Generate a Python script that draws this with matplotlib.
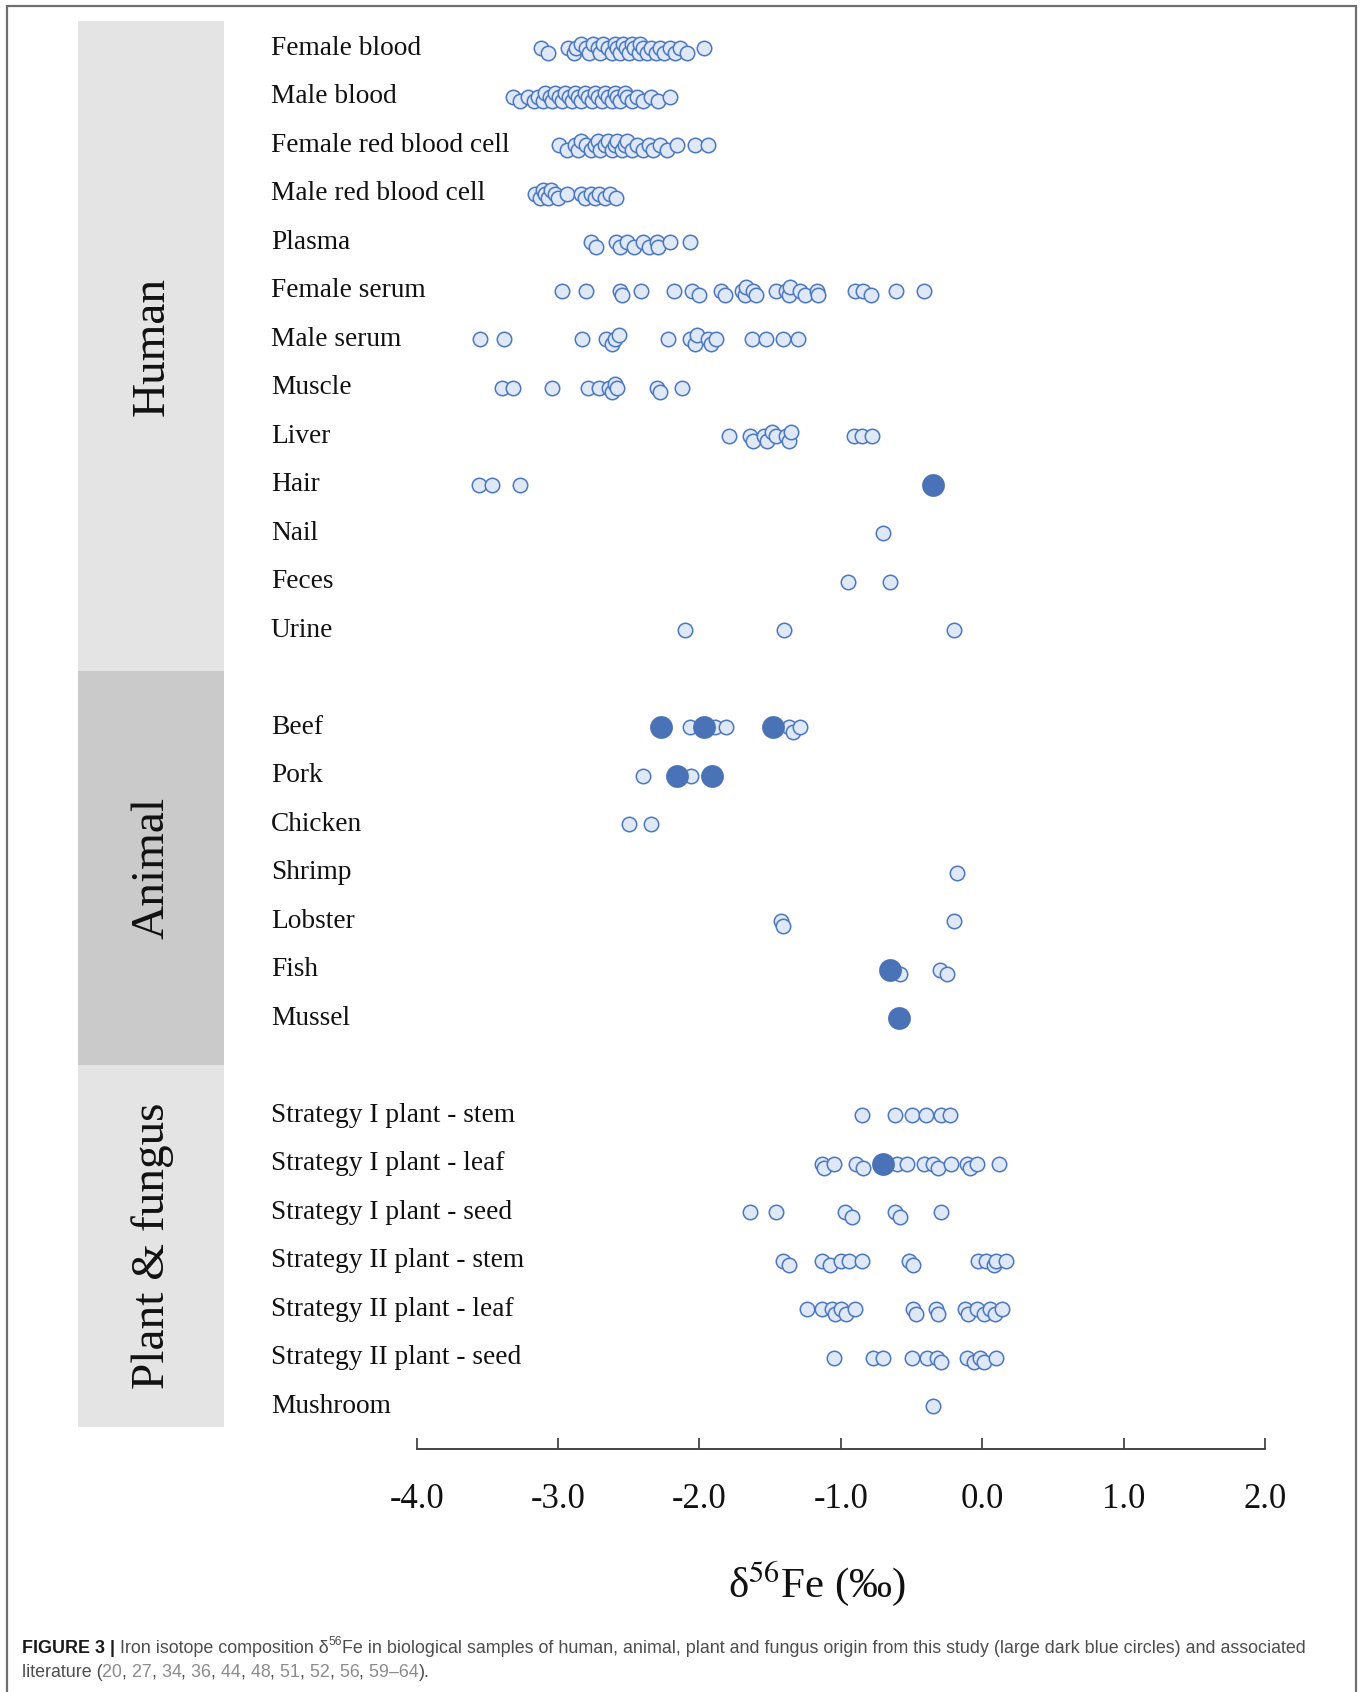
import numpy as np
import matplotlib.pyplot as plt
from matplotlib.patches import Rectangle
from matplotlib.transforms import blended_transform_factory

plt.rcParams['font.family'] = ['Liberation Serif', 'DejaVu Serif']
plt.rcParams['mathtext.fontset'] = 'stix'

# delta56Fe values (permil), literature = small circles, this study = large circles
human_labels = ["Female blood", "Male blood", "Female red blood cell", "Male red blood cell",
                "Plasma", "Female serum", "Male serum", "Muscle", "Liver", "Hair", "Nail",
                "Feces", "Urine"]
animal_labels = ["Beef", "Pork", "Chicken", "Shrimp", "Lobster", "Fish", "Mussel"]
plant_labels = ["Strategy I plant - stem", "Strategy I plant - leaf", "Strategy I plant - seed",
                "Strategy II plant - stem", "Strategy II plant - leaf", "Strategy II plant - seed",
                "Mushroom"]

female_blood = [-3.12, -3.07, -2.93, -2.89, -2.87, -2.84, -2.80, -2.78, -2.75, -2.72, -2.70, -2.68,
                -2.65, -2.62, -2.60, -2.58, -2.56, -2.54, -2.52, -2.50, -2.48, -2.46, -2.43, -2.42,
                -2.40, -2.37, -2.34, -2.31, -2.28, -2.25, -2.21, -2.17, -2.14, -2.09, -1.97]
male_blood = [-3.32, -3.27, -3.21, -3.17, -3.14, -3.11, -3.09, -3.06, -3.04, -3.02, -2.99, -2.97,
              -2.95, -2.92, -2.90, -2.88, -2.86, -2.84, -2.81, -2.79, -2.76, -2.74, -2.72, -2.69,
              -2.67, -2.65, -2.62, -2.60, -2.58, -2.56, -2.53, -2.51, -2.48, -2.44, -2.40, -2.34,
              -2.29, -2.21]
female_rbc = [-2.99, -2.94, -2.88, -2.86, -2.84, -2.80, -2.77, -2.74, -2.72, -2.70, -2.67, -2.65,
              -2.62, -2.60, -2.58, -2.55, -2.53, -2.51, -2.48, -2.44, -2.40, -2.36, -2.33, -2.28,
              -2.23, -2.16, -2.03, -1.94]
male_rbc = [-3.16, -3.13, -3.11, -3.09, -3.07, -3.05, -3.02, -3.00, -2.94, -2.84, -2.81, -2.77,
            -2.74, -2.71, -2.67, -2.63, -2.59]
plasma = [-2.77, -2.73, -2.59, -2.56, -2.51, -2.46, -2.40, -2.36, -2.30, -2.29, -2.21, -2.07]
female_serum = [-2.97, -2.80, -2.56, -2.55, -2.41, -2.18, -2.05, -2.00, -1.85, -1.82, -1.70, -1.68,
                -1.67, -1.62, -1.60, -1.46, -1.39, -1.37, -1.36, -1.29, -1.25, -1.17, -1.16, -0.90,
                -0.84, -0.79, -0.61, -0.41]
male_serum = [-3.55, -3.38, -2.83, -2.66, -2.62, -2.60, -2.57, -2.22, -2.07, -2.03, -2.02, -1.94,
              -1.92, -1.88, -1.63, -1.53, -1.41, -1.30]
muscle = [-3.40, -3.32, -3.04, -2.79, -2.71, -2.64, -2.62, -2.60, -2.58, -2.30, -2.28, -2.12]
liver = [-1.79, -1.64, -1.62, -1.54, -1.52, -1.49, -1.46, -1.39, -1.37, -1.35, -0.91, -0.85, -0.78]
hair = [-3.56, -3.47, -3.27]
nail = [-0.70]
feces = [-0.95, -0.65]
urine = [-2.10, -1.40, -0.20]
beef = [-2.07, -1.89, -1.81, -1.37, -1.34, -1.29]
pork = [-2.40, -2.06]
chicken = [-2.50, -2.34]
shrimp = [-0.18]
lobster = [-1.42, -1.41, -0.20]
fish = [-0.63, -0.58, -0.30, -0.25]
mussel = []
s1_stem = [-0.85, -0.62, -0.50, -0.40, -0.29, -0.23]
s1_leaf = [-1.13, -1.12, -1.05, -0.89, -0.84, -0.60, -0.53, -0.41, -0.35, -0.31, -0.22, -0.11,
           -0.085, -0.04, 0.12]
s1_seed = [-1.64, -1.46, -0.97, -0.92, -0.62, -0.58, -0.29]
s2_stem = [-1.41, -1.37, -1.13, -1.08, -1.00, -0.94, -0.85, -0.52, -0.49, -0.03, 0.03, 0.08, 0.10, 0.17]
s2_leaf = [-1.24, -1.13, -1.06, -1.04, -1.00, -0.96, -0.90, -0.49, -0.47, -0.33, -0.31, -0.12, -0.10,
           -0.04, 0.01, 0.055, 0.09, 0.14]
s2_seed = [-1.05, -0.77, -0.70, -0.50, -0.39, -0.32, -0.29, -0.11, -0.06, -0.015, 0.01, 0.095]
mushroom = [-0.35]

# this study
hair_study = [-0.35]
beef_study = [-2.27, -1.97, -1.48]
pork_study = [-2.16, -1.91]
fish_study = [-0.65]
mussel_study = [-0.59]
s1_leaf_study = [-0.70]

literature = [female_blood, male_blood, female_rbc, male_rbc, plasma, female_serum, male_serum,
              muscle, liver, hair, nail, feces, urine,
              beef, pork, chicken, shrimp, lobster, fish, mussel,
              s1_stem, s1_leaf, s1_seed, s2_stem, s2_leaf, s2_seed, mushroom]
study = {"Hair": hair_study, "Beef": beef_study, "Pork": pork_study, "Fish": fish_study,
         "Mussel": mussel_study, "Strategy I plant - leaf": s1_leaf_study}

labels = human_labels + animal_labels + plant_labels
rows = list(range(13)) + list(range(14, 21)) + list(range(22, 29))

groups = [("Human", -0.56, 12.84, '#e5e4e5'), ("Animal", 12.84, 20.96, '#cbcacb'),
          ("Plant & fungus", 20.96, 28.42, '#e5e4e5')]

fig = plt.figure(figsize=(13.63, 16.92), dpi=100)
ax = fig.add_axes([0.3057, 0.1434, 0.6224, 0.8440])

light = '#dfe8f6'
edge = '#4a76c4'
dark = '#4a72b6'


def spread(vals, gap=0.055, step=0.09):
    # nudge overlapping circles slightly up/down
    order = np.argsort(vals)
    offs = np.zeros(len(vals))
    last = {0: -99, -1: -99, 1: -99}
    for i in order:
        v = vals[i]
        for lev in (0, 1, -1):
            if v - last[lev] >= gap:
                break
        else:
            lev = 0
        last[lev] = v
        offs[i] = lev * step
    return offs


for lab, r, vals in zip(labels, rows, literature):
    if vals:
        v = np.array(vals)
        ax.scatter(v, r + spread(v), s=108, facecolor=light, edgecolor=edge, linewidth=1.1, zorder=3)
    if lab in study:
        sv = np.array(study[lab])
        ax.scatter(sv, np.full(len(sv), r), s=270, color=dark, linewidth=0, zorder=4)

trans = blended_transform_factory(fig.transFigure, ax.transData)
for lab, r in zip(labels, rows):
    ax.text(0.1986, r, lab, transform=trans, fontsize=19.7, va='center', ha='left', color='#111111')

for name, y0, y1, col in groups:
    ax.add_patch(Rectangle((0.057, y0), 0.107, y1 - y0, transform=trans, facecolor=col,
                           edgecolor='none', clip_on=False, zorder=0))
    ax.text(0.1116, (y0 + y1) / 2, name, transform=trans, rotation=90, fontsize=34,
            ha='center', va='center', color='#111111')

ax.set_xlim(-4, 2)
ax.set_ylim(28.89, -0.56)
for s in ['left', 'top', 'right']:
    ax.spines[s].set_visible(False)
ax.spines['bottom'].set_color('#444444')
ax.spines['bottom'].set_linewidth(1.4)
ax.set_yticks([])
ax.set_xticks(np.arange(-4, 2.5, 1))
ax.set_xticklabels(['%.1f' % t for t in np.arange(-4, 2.5, 1)])
ax.tick_params(axis='x', direction='in', length=8, width=1.3, color='#444444', labelsize=25,
               pad=24, labelcolor='#111111')

fig.text(0.5994, 0.0644, r'δ$^{56}$Fe (‰)', fontsize=31, ha='center', va='center', color='#111111')

# outer frame
fig.add_artist(Rectangle((0.0052, -0.02), 0.9896, 1.0165, transform=fig.transFigure,
                         facecolor='none', edgecolor='#6f6f6f', linewidth=1.6))

# caption, written piece by piece
cap_font = ['Liberation Sans', 'DejaVu Sans']
body = '#4d4d4d'
refc = '#8c8c8c'
renderer = fig.canvas.get_renderer()
W = fig.bbox.width


def caption(pieces, x, y, size=12.9):
    for txt, col, wt in pieces:
        if txt == '56':
            t = fig.text(x, y + 0.0043, txt, color=col, fontweight=wt, family=cap_font,
                         fontsize=size * 0.68, va='baseline')
        else:
            t = fig.text(x, y, txt, color=col, fontweight=wt, family=cap_font,
                         fontsize=size, va='baseline')
        x += t.get_window_extent(renderer).width / W


caption([("FIGURE 3 |", '#1a1a1a', 'bold'), (" Iron isotope composition δ", body, 'normal'),
         ("56", body, 'normal'),
         ("Fe in biological samples of human, animal, plant and fungus origin from this study "
          "(large dark blue circles) and associated", body, 'normal')], 0.0158, 0.0232)
refs = ["20", "27", "34", "36", "44", "48", "51", "52", "56", "59–64"]
line2 = [("literature (", body, 'normal')]
for i, rf in enumerate(refs):
    line2.append((rf + "\u200b", refc, 'normal'))
    line2.append((", " if i < len(refs) - 1 else ").", body, 'normal'))
caption(line2, 0.0158, 0.0088)

fig.savefig('out.png', dpi=100)
